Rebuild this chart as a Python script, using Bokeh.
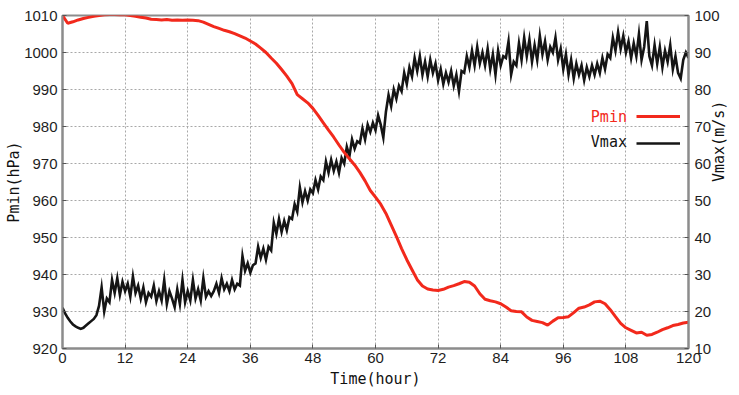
import numpy as np
from bokeh.plotting import figure
from bokeh.models import Range1d, LinearAxis, FixedTicker, Legend, LegendItem, Label, ColumnDataSource
from bokeh.embed import file_html
from bokeh.resources import INLINE

# ---------------- data ----------------
time_hours_p = list(range(0, 121))
pmin_hpa = [
    1010.0, 1007.9, 1008.3, 1008.8, 1009.2, 1009.5, 1009.8, 1010.0, 1010.2, 1010.3,
    1010.3, 1010.2, 1010.2, 1010.0, 1009.8, 1009.5, 1009.3, 1009.0, 1008.9, 1008.8,
    1008.9, 1008.7, 1008.8, 1008.7, 1008.8, 1008.7, 1008.6, 1008.2, 1007.6, 1007.0,
    1006.5, 1006.0, 1005.6, 1005.1, 1004.5, 1003.9, 1003.1, 1002.3, 1001.2, 1000.0,
    998.5, 997.1, 995.4, 993.6, 991.6, 988.6, 987.5, 986.4, 984.9, 983.0,
    981.0, 979.0, 977.1, 975.0, 973.0, 971.3, 969.6, 967.6, 965.3, 962.7,
    960.9, 959.0, 956.5, 953.4, 950.3, 947.0, 944.0, 941.3, 938.6, 936.9,
    936.1, 935.8, 935.7, 936.0, 936.6, 937.0, 937.5, 938.1, 937.9, 936.9,
    934.8, 933.3, 932.9, 932.6, 932.1, 931.2, 930.2, 930.0, 929.9, 928.5,
    927.6, 927.3, 927.0, 926.3, 927.4, 928.3, 928.4, 928.6, 929.7, 930.9,
    931.2, 931.8, 932.6, 932.8, 932.1, 930.5, 928.6, 926.8, 925.6, 924.9,
    924.2, 924.4, 923.6, 923.8, 924.4, 925.1, 925.6, 926.2, 926.5, 926.9,
    927.1,
]

time_hours_v = [i * 0.5 for i in range(241)]
vmax_ms = [
    21.0, 19.5, 18.3, 17.3, 16.5, 16.0, 15.6, 15.3, 15.6, 16.2,
    16.8, 17.4, 18.0, 19.0, 21.5, 26.5, 20.0, 23.5, 22.5, 28.5,
    25.0, 29.0, 24.5, 28.0, 25.5, 27.5, 24.0, 29.5, 25.0, 27.0,
    23.5, 26.5, 22.5, 25.0, 24.0, 27.0, 22.8, 25.5, 23.0, 28.5,
    22.0, 25.5, 23.5, 21.2, 26.0, 22.0, 28.5, 22.5, 25.5, 23.0,
    28.5, 23.5, 26.0, 23.0, 29.0, 24.0, 25.5, 24.2, 25.5, 27.5,
    25.0, 29.0, 26.0, 27.5, 25.5, 28.5, 26.0, 27.5, 27.0, 35.0,
    31.0, 33.0, 30.5, 32.5, 33.0, 37.5, 34.5, 37.0, 34.0, 37.5,
    36.5, 44.0, 41.0, 45.0, 41.5, 44.5, 42.0, 45.5, 45.0, 49.0,
    47.0, 53.5, 49.5, 52.5, 50.0, 53.0, 52.0, 55.5, 53.0, 56.5,
    55.5, 60.5, 57.5, 61.0, 58.0, 60.5, 57.5, 61.5, 60.0, 64.5,
    62.0, 66.5, 64.0, 66.0, 65.5, 69.5, 66.5, 70.5, 68.5, 71.0,
    69.0, 73.0, 70.5, 67.0, 74.0, 78.5, 75.5, 80.0, 77.5, 81.0,
    79.5, 84.5, 81.5, 86.0, 83.5, 88.5, 85.0, 89.0, 84.0, 87.5,
    83.5, 88.0, 84.5, 87.0, 82.5, 85.5, 81.5, 84.5, 82.0, 85.0,
    81.0, 84.0, 79.5, 85.0, 84.5, 89.0, 86.0, 90.5, 86.5, 91.5,
    87.0, 90.0, 86.5, 91.0, 85.5, 89.5, 84.0, 90.5, 86.5, 89.0,
    88.5, 93.0, 84.0, 87.5, 86.5, 92.5, 88.0, 94.0, 89.0, 93.5,
    87.5, 92.0, 88.0, 94.5, 89.5, 93.0, 88.0, 91.5, 90.0, 94.0,
    88.0, 91.0, 85.5, 89.5, 84.0, 88.0, 83.0, 87.0, 84.0, 86.5,
    82.5, 86.0, 83.5, 86.5, 84.0, 87.0, 84.5, 88.5, 85.5, 89.5,
    88.5, 94.0, 90.5, 95.5, 91.0, 94.5, 90.0, 93.0, 88.5, 92.5,
    89.0, 95.0, 88.0, 91.5, 98.5, 89.0, 86.5, 92.0, 87.0, 91.5,
    86.0, 90.5, 87.5, 92.0, 85.5, 89.0, 84.5, 83.0, 88.0, 90.0,
    88.5,
]

x_ticks = [0, 12, 24, 36, 48, 60, 72, 84, 96, 108, 120]
p_ticks = [920, 930, 940, 950, 960, 970, 980, 990, 1000, 1010]
v_ticks = [10, 20, 30, 40, 50, 60, 70, 80, 90, 100]

RED = "#f2291c"
BLACK = "#151515"
GRAY = "#8c8c8c"
TICK_FONT = "Liberation Sans"
LABEL_FONT = "DejaVu Sans Mono"

# ---------------- figure ----------------
p = figure(width=739, height=395, output_backend="svg", toolbar_location=None,
           x_range=Range1d(0, 120), y_range=Range1d(920, 1010),
           min_border_left=62, min_border_right=44, min_border_top=15, min_border_bottom=47,
           background_fill_color="white", border_fill_color="white")
p.extra_y_ranges = {"v": Range1d(10, 100)}

p.outline_line_color = GRAY
p.outline_line_width = 2

p.xaxis.ticker = FixedTicker(ticks=x_ticks)
p.yaxis.ticker = FixedTicker(ticks=p_ticks)
p.xaxis.axis_label = "Time(hour)"
p.yaxis.axis_label = "Pmin(hPa)"

right_axis = LinearAxis(y_range_name="v", ticker=FixedTicker(ticks=v_ticks), axis_label="Vmax(m/s)")
p.add_layout(right_axis, "right")

for ax in [p.xaxis[0], p.yaxis[0], right_axis]:
    ax.axis_line_color = GRAY
    ax.axis_line_width = 2
    ax.major_tick_in = 4
    ax.major_tick_out = 0
    ax.major_tick_line_color = "#555555"
    ax.minor_tick_line_color = None
    ax.major_label_text_font = TICK_FONT
    ax.major_label_text_font_size = "15px"
    ax.major_label_text_color = "#1e1e1e"
    ax.major_label_standoff = 5
    ax.axis_label_text_font = LABEL_FONT
    ax.axis_label_text_font_size = "15px"
    ax.axis_label_text_font_style = "normal"
    ax.axis_label_text_color = "#111111"

p.xaxis[0].major_label_standoff = 4
p.xaxis[0].axis_label_standoff = 4
p.yaxis[0].axis_label_standoff = -2
right_axis.major_label_standoff = 6
right_axis.axis_label_standoff = -4
right_axis.axis_label_text_line_height = 0.5
right_axis.axis_label_orientation = np.pi / 2

p.xgrid.ticker = FixedTicker(ticks=x_ticks)
p.ygrid.ticker = FixedTicker(ticks=p_ticks)
for g in [p.xgrid[0], p.ygrid[0]]:
    g.grid_line_color = "#a8a8a8"
    g.grid_line_dash = "2 2"
    g.grid_line_width = 1

src_v = ColumnDataSource(data=dict(t=time_hours_v, v=vmax_ms))
src_p = ColumnDataSource(data=dict(t=time_hours_p, p=pmin_hpa))

r_v = p.line("t", "v", source=src_v, y_range_name="v", line_color=BLACK, line_width=2.6, line_join="miter")
r_p = p.line("t", "p", source=src_p, line_color=RED, line_width=3)

legend = Legend(items=[LegendItem(label=" ", renderers=[r_p]), LegendItem(label=" ", renderers=[r_v])],
                location=(574, 195), glyph_width=44, glyph_height=20, spacing=7,
                padding=0, margin=0, border_line_color=None, background_fill_alpha=0,
                label_text_font_size="1px", label_standoff=0, label_width=0, label_height=20)
p.add_layout(legend)

p.add_layout(Label(x=108.2, y=982.7, text="Pmin", text_color=RED, text_align="right",
                   text_baseline="middle", text_font=LABEL_FONT, text_font_size="15px"))
p.add_layout(Label(x=108.2, y=975.9, text="Vmax", text_color=BLACK, text_align="right",
                   text_baseline="middle", text_font=LABEL_FONT, text_font_size="15px"))

open("out.html", "w").write(file_html(p, INLINE))
